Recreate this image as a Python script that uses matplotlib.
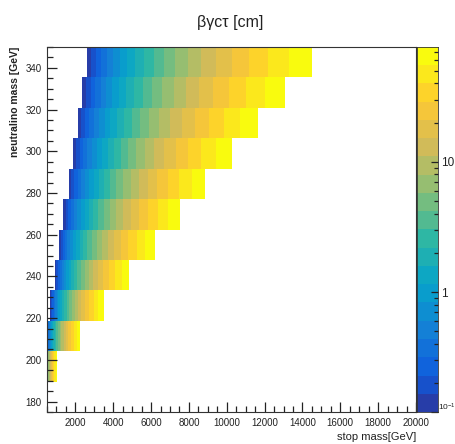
import numpy as np
import matplotlib
matplotlib.use('Agg')
import matplotlib.pyplot as plt
from matplotlib.colors import LinearSegmentedColormap, ListedColormap, BoundaryNorm
from matplotlib.ticker import MultipleLocator, FixedLocator, NullFormatter

plt.rcParams['font.family'] = ['Liberation Sans Narrow', 'Liberation Sans', 'DejaVu Sans']
plt.rcParams['mathtext.default'] = 'regular'

# neutralino mass bin edges [GeV]
neutralino_edges = [175.0, 189.6, 204.2, 218.8, 233.3, 247.9, 262.5,
                    277.1, 291.7, 306.3, 320.8, 335.4, 350.0]

# stop mass [GeV] where the colour level changes, one list per neutralino bin
# (from the 189.6-204.2 bin upwards)
stop_190 = [500, 544, 590, 640, 694, 753, 817, 887, 962, 1044]
stop_204 = [500, 512, 556, 604, 655, 711, 772, 838, 910, 988, 1072, 1164,
            1264, 1372, 1489, 1616, 1754, 1904, 2067, 2244]
stop_219 = [670, 728, 790, 858, 932, 1013, 1100, 1195, 1298, 1409, 1531,
            1663, 1806, 1961, 2130, 2314, 2513, 2729, 2964, 3220, 3497]
stop_233 = [915, 994, 1081, 1174, 1276, 1387, 1507, 1638, 1780, 1935, 2103,
            2285, 2483, 2699, 2933, 3188, 3464, 3765, 4092, 4447, 4833]
stop_248 = [1120, 1220, 1329, 1448, 1577, 1718, 1872, 2039, 2222, 2420, 2637,
            2872, 3129, 3409, 3713, 4045, 4407, 4801, 5230, 5697, 6207]
stop_263 = [1370, 1492, 1625, 1769, 1926, 2098, 2284, 2487, 2709, 2950, 3212,
            3498, 3809, 4147, 4516, 4918, 5355, 5831, 6350, 6915, 7530]
stop_277 = [1647, 1792, 1949, 2120, 2307, 2509, 2730, 2970, 3231, 3515, 3823,
            4159, 4525, 4922, 5355, 5825, 6337, 6894, 7500, 8159, 8875]
stop_292 = [1874, 2040, 2221, 2418, 2633, 2867, 3121, 3398, 3700, 4028, 4386,
            4775, 5198, 5660, 6162, 6709, 7304, 7952, 8658, 9426, 10262]
stop_306 = [2122, 2311, 2516, 2740, 2984, 3250, 3539, 3854, 4197, 4570, 4977,
            5420, 5902, 6427, 6999, 7621, 8299, 9038, 9842, 10717, 11671]
stop_321 = [2366, 2577, 2807, 3058, 3331, 3628, 3952, 4304, 4689, 5107, 5563,
            6059, 6600, 7189, 7831, 8530, 9291, 10120, 11023, 12007, 13079]
stop_335 = [2598, 2831, 3085, 3362, 3664, 3993, 4351, 4742, 5167, 5631, 6136,
            6687, 7287, 7941, 8654, 9430, 10276, 11199, 12204, 13299, 14493]

stop_rows = [stop_190, stop_204, stop_219, stop_233, stop_248, stop_263,
             stop_277, stop_292, stop_306, stop_321, stop_335]
# colour level of the first segment in each row
first_level = [11, 1, 0, 0, 0, 0, 0, 0, 0, 0, 0]

z_min, z_max = 0.12, 76.0
n_levels = 20
z_levels = np.geomspace(z_min, z_max, n_levels + 1)
z_centers = np.sqrt(z_levels[:-1] * z_levels[1:])

# ROOT kBird palette
bird_stops = [0.0, 0.125, 0.25, 0.375, 0.5, 0.625, 0.75, 0.875, 1.0]
bird_r = [0.2082, 0.0592, 0.0780, 0.0232, 0.1802, 0.5301, 0.8186, 0.9956, 0.9764]
bird_g = [0.1664, 0.3599, 0.5041, 0.6419, 0.7178, 0.7492, 0.7328, 0.7862, 0.9832]
bird_b = [0.5293, 0.8684, 0.8385, 0.7914, 0.6425, 0.4662, 0.3499, 0.1968, 0.0539]
bird = LinearSegmentedColormap.from_list(
    'bird', list(zip(bird_stops, zip(bird_r, bird_g, bird_b))), N=255)
cmap = ListedColormap([bird((i + 0.99) / n_levels) for i in range(n_levels)])
norm = BoundaryNorm(z_levels, n_levels)

fig = plt.figure(figsize=(4.56, 4.44), dpi=100)
W, H = 456.0, 444.0
ax = fig.add_axes([47 / W, 32 / H, 369 / W, 365 / H])

for r, edges in enumerate(stop_rows):
    lvl = first_level[r]
    n = len(edges) - 1
    vals = z_centers[lvl:lvl + n]
    ax.pcolormesh(edges, neutralino_edges[r + 1:r + 3], vals[None, :],
                  cmap=cmap, norm=norm, edgecolors='none', antialiased=False)

ax.set_xlim(500, 20000)
ax.set_ylim(175, 350)
ax.xaxis.set_minor_locator(MultipleLocator(500))
ax.yaxis.set_major_locator(MultipleLocator(20))
ax.yaxis.set_minor_locator(MultipleLocator(5))
ax.set_xticks([2000 * i for i in range(1, 11)])
ax.tick_params(which='both', direction='in', width=0.9, labelsize=7,
               colors='#222222', top=False, right=False)
ax.tick_params(which='major', length=7.5, pad=4)
ax.tick_params(which='minor', length=4)
for s in ax.spines.values():
    s.set_linewidth(0.8)
    s.set_color('#333333')

# colour bar
cax = fig.add_axes([417 / W, 32 / H, 21 / W, 365 / H])
cax.pcolormesh([0, 1], z_levels, z_centers[:, None], cmap=cmap, norm=norm,
               edgecolors='none', antialiased=False)
cax.set_yscale('log')
cax.set_ylim(z_min, z_max)
cax.set_xlim(0, 1)
cax.set_xticks([])
cax.yaxis.tick_right()
cax.yaxis.set_major_locator(FixedLocator([z_min, 1, 10]))
cax.set_yticklabels(['', '1', '10'])
minors = [0.2, 0.3, 0.4, 0.5, 0.6, 0.7, 0.8, 0.9, 2, 3, 4, 5, 6, 7,
          8, 9, 20, 30, 40, 50, 60, 70]
cax.yaxis.set_minor_locator(FixedLocator(minors))
cax.yaxis.set_minor_formatter(NullFormatter())
cax.tick_params(axis='y', which='both', direction='in', width=0.9,
                labelsize=8.5, colors='#222222', pad=2.5)
cax.tick_params(axis='y', which='major', length=5)
cax.tick_params(axis='y', which='minor', length=3)
for s in cax.spines.values():
    s.set_linewidth(0.6)
    s.set_color('#333333')
# bottom label of the colour scale, kept inside the canvas
fig.text(438.5 / W, 1 - 407 / H, r'$10^{-1}$', ha='left', va='center',
         fontsize=6, color='#222222')

fig.text(230 / W, 1 - 22 / H, 'βγcτ [cm]', ha='center', va='center',
         fontsize=11.5, color='#222222')
fig.text(15 / W, 1 - 47 / H, 'neutralino mass [GeV]', rotation=90,
         ha='center', va='top', fontsize=7.5, fontweight='bold', color='#222222')
fig.text(416 / W, 1 - 437 / H, 'stop mass[GeV]', ha='right', va='center',
         fontsize=8, color='#222222')

fig.savefig('out.png', dpi=100)
